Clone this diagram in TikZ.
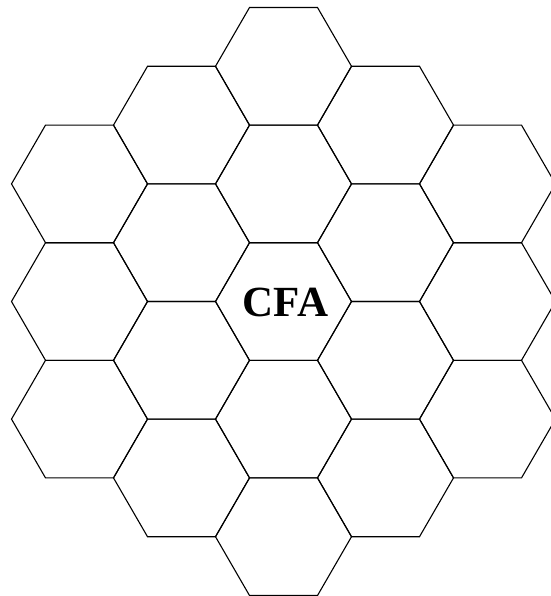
\documentclass[tikz,border=0pt]{standalone}
\usepackage{fontspec}
\setmainfont{Liberation Serif}
\begin{document}
\begin{tikzpicture}[x=1pt,y=-1pt,
  hexcell/.style={draw=black, line width=1.1pt, line join=miter},
  label/.style={font=\bfseries\fontsize{43}{43}\selectfont, inner sep=0pt}]
\useasboundingbox (0,0) rectangle (550,596);
\foreach \q/\n in {-2/3,-1/4,0/5,1/4,2/3}{
  \foreach \i in {1,...,\n}{
    \pgfmathsetmacro\cx{283.5+102*\q}
    \pgfmathsetmacro\cy{301.5+117.6*(\i-(\n+1)/2)}
    \draw[hexcell] (\cx+68,\cy) -- (\cx+34,\cy+58.8) -- (\cx-34,\cy+58.8)
      -- (\cx-68,\cy) -- (\cx-34,\cy-58.8) -- (\cx+34,\cy-58.8) -- cycle;
  }
}
\node[label] (cfa) at (285.5,302) {CFA};
\end{tikzpicture}
\end{document}
